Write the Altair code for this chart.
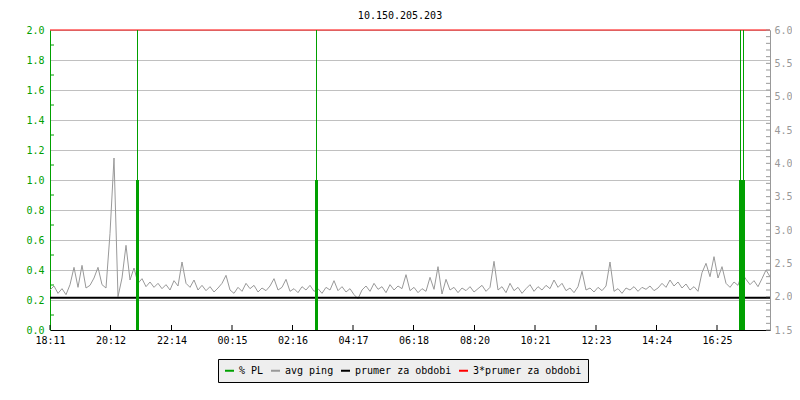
import altair as alt
import pandas as pd

chart_title = "10.150.205.203"
time_labels = ["18:11", "20:12", "22:14", "00:15", "02:16", "04:17",
               "06:18", "08:20", "10:21", "12:23", "14:24", "16:25"]
time_tick_minutes = [0, 121, 243, 364, 485, 606, 727, 849, 970, 1092, 1213, 1334]
time_span_minutes = 1440

series_names = ["% PL", "avg ping", "prumer za obdobi", "3*prumer za obdobi"]
series_colors = ["#00a000", "#999999", "#000000", "#ff0000"]

ping_step_minutes = 8
avg_ping_ms = [
    2.10, 2.16, 2.05, 2.12, 2.03, 2.18, 2.44, 2.14, 2.47, 2.13,
    2.17, 2.28, 2.44, 2.18, 2.13, 2.95, 4.08, 2.00, 2.28, 2.77,
    2.25, 2.43, 2.20, 2.27, 2.15, 2.22, 2.14, 2.20, 2.12, 2.18,
    2.10, 2.24, 2.16, 2.52, 2.20, 2.14, 2.25, 2.10, 2.17, 2.09,
    2.15, 2.07, 2.13, 2.20, 2.32, 2.10, 2.05, 2.14, 2.08, 2.20,
    2.12, 2.17, 2.07, 2.13, 2.09, 2.16, 2.27, 2.10, 2.14, 2.26,
    2.08, 2.12, 2.06, 2.15, 2.10, 2.17, 2.08, 2.12, 2.05, 2.14,
    2.10, 2.24, 2.09, 2.15, 2.07, 2.12, 2.03, 1.97, 2.10, 2.16,
    2.08, 2.20, 2.11, 2.15, 2.06, 2.18, 2.10, 2.16, 2.12, 2.33,
    2.09, 2.14, 2.06, 2.12, 2.08, 2.29, 2.11, 2.45, 2.04, 2.26,
    2.10, 2.14, 2.06, 2.13, 2.09, 2.15, 2.07, 2.12, 2.17, 2.08,
    2.14, 2.53, 2.10, 2.15, 2.06, 2.20, 2.09, 2.14, 2.05, 2.12,
    2.18, 2.08, 2.15, 2.10, 2.17, 2.12, 2.25, 2.14, 2.20, 2.09,
    2.13, 2.06, 2.15, 2.38, 2.10, 2.13, 2.07, 2.14, 2.09, 2.16,
    2.52, 2.08, 2.12, 2.05, 2.13, 2.10, 2.15, 2.08, 2.14, 2.11,
    2.16, 2.09, 2.13, 2.20, 2.14, 2.25, 2.16, 2.22, 2.13, 2.19,
    2.10, 2.15, 2.08, 2.36, 2.50, 2.30, 2.60, 2.28, 2.45, 2.20,
    2.14, 2.22, 2.17, 2.35, 2.26, 2.18, 2.24, 2.15, 2.27, 2.40,
    2.30,
]

pl_event_minutes = [175, 533, 1381, 1387]
pl_event_values = [1.0, 1.0, 1.0, 1.0]
pl_event_top = [2.0, 2.0, 2.0, 2.0]

prumer_value = 1.985
triple_prumer_value = 6.0

left_major_ticks = [0.0, 0.2, 0.4, 0.6, 0.8, 1.0, 1.2, 1.4, 1.6, 1.8, 2.0]
left_minor_ticks = [0.1, 0.3, 0.5, 0.7, 0.9, 1.1, 1.3, 1.5, 1.7, 1.9]
right_major_ticks = [1.5, 2.0, 2.5, 3.0, 3.5, 4.0, 4.5, 5.0, 5.5, 6.0]
right_minor_ticks = [1.5, 1.6, 1.7, 1.8, 1.9, 2.0, 2.1, 2.2, 2.3, 2.4,
                     2.5, 2.6, 2.7, 2.8, 2.9, 3.0, 3.1, 3.2, 3.3, 3.4,
                     3.5, 3.6, 3.7, 3.8, 3.9, 4.0, 4.1, 4.2, 4.3, 4.4,
                     4.5, 4.6, 4.7, 4.8, 4.9, 5.0, 5.1, 5.2, 5.3, 5.4,
                     5.5, 5.6, 5.7, 5.8, 5.9, 6.0]

FONT = "DejaVu Sans Mono"
GREEN = series_colors[0]
GRAY = series_colors[1]
W, H = 720, 300

ping_df = pd.DataFrame({
    "minute": [i * ping_step_minutes for i in range(len(avg_ping_ms))],
    "ping": avg_ping_ms,
    "series": series_names[1],
})
pl_df = pd.DataFrame({"minute": pl_event_minutes, "pl": pl_event_values,
                      "top": pl_event_top, "zero": 0.0, "series": series_names[0]})
prumer_df = pd.DataFrame({"v": [prumer_value], "series": [series_names[2]]})
triple_df = pd.DataFrame({"v": [triple_prumer_value], "series": [series_names[3]]})
xt_df = pd.DataFrame({"minute": time_tick_minutes})
lminor_df = pd.DataFrame({"t": left_minor_ticks})
rminor_df = pd.DataFrame({"t": right_minor_ticks})

x_scale = alt.Scale(domain=[0, time_span_minutes], nice=False, zero=False)
left_scale = alt.Scale(domain=[0, 2.0], nice=False, zero=False)
right_scale = alt.Scale(domain=[1.5, 6.0], nice=False, zero=False)

label_arr = "[" + ",".join("'%s'" % s for s in time_labels) + "]"
min_arr = "[" + ",".join(str(m) for m in time_tick_minutes) + "]"

x_axis = alt.Axis(values=time_tick_minutes,
                  labelExpr=label_arr + "[indexof(" + min_arr + ", datum.value)]",
                  title=None, grid=False, ticks=False, domainColor="black",
                  labelColor="black", labelFont=FONT, labelFontSize=10,
                  labelPadding=5, labelFlush=False, labelOverlap=False,
                  orient="bottom")
left_axis = alt.Axis(values=left_major_ticks, format=".1f", title=None, grid=True,
                     gridColor="#c0c0c0", ticks=False, domainColor=GREEN,
                     labelColor=GREEN, labelFont=FONT, labelFontSize=10,
                     labelPadding=6, orient="left", labelFlush=False)
right_axis = alt.Axis(values=right_major_ticks, format=".1f", title=None, grid=False,
                      ticks=False, domainColor=GRAY, labelColor=GRAY,
                      labelFont=FONT, labelFontSize=10, labelPadding=4,
                      orient="right", labelFlush=False)

color_scale = alt.Scale(domain=series_names, range=series_colors)
legend = alt.Legend(orient="none", legendX=168, legendY=329, direction="horizontal",
                    title=None, fillColor="#eeeeee", strokeColor="black",
                    padding=6, symbolType="stroke", symbolSize=81,
                    symbolStrokeWidth=2, labelFont=FONT, labelFontSize=10,
                    labelOffset=4, columnPadding=3, cornerRadius=0)


def col():
    return alt.Color("series:N", scale=color_scale, legend=legend)


def X(field):
    return alt.X(field, scale=x_scale, axis=x_axis)


def YL(field):
    return alt.Y(field, scale=left_scale, axis=left_axis)


def YR(field):
    return alt.Y(field, scale=right_scale, axis=right_axis)


# ---- right-scale group ----
ping_line = alt.Chart(ping_df).mark_line(strokeWidth=1, interpolate="linear").encode(
    x=X("minute:Q"), y=YR("ping:Q"), color=col(),
)
prumer_rule = alt.Chart(prumer_df).mark_rule(strokeWidth=2).encode(
    y=YR("v:Q"), color=col(),
)
triple_rule = alt.Chart(triple_df).mark_rule(strokeWidth=1).encode(
    y=YR("v:Q"), color=col(),
)
right_ticks = alt.Chart(rminor_df).mark_rule(strokeWidth=1).encode(
    y=YR("t:Q"), x=alt.value(W), x2=alt.value(W - 4), color=alt.value(GRAY),
)
right_group = alt.layer(ping_line, prumer_rule, triple_rule, right_ticks)

# ---- left-scale group ----
pl_thin = alt.Chart(pl_df).mark_rule(strokeWidth=1).encode(
    x=X("minute:Q"), y=YL("top:Q"), y2=alt.Y2("zero:Q"), color=col(),
)
pl_thick = alt.Chart(pl_df).mark_rule(strokeWidth=3).encode(
    x=X("minute:Q"), y=YL("pl:Q"), y2=alt.Y2("zero:Q"), color=col(),
)
left_ticks = alt.Chart(lminor_df).mark_rule(strokeWidth=1).encode(
    y=YL("t:Q"), x=alt.value(0), x2=alt.value(4), color=alt.value(GREEN),
)
x_ticks = alt.Chart(xt_df).mark_rule(strokeWidth=1).encode(
    x=X("minute:Q"), y=alt.value(H), y2=alt.value(H - 5), color=alt.value("black"),
)
left_group = alt.layer(left_ticks, x_ticks, pl_thin, pl_thick)

chart = alt.layer(right_group, left_group).resolve_scale(y="independent").properties(
    width=W, height=H,
    title=alt.TitleParams(chart_title, anchor="middle", font=FONT, fontSize=10,
                          fontWeight="normal", color="black", offset=4, dx=-10),
    autosize=alt.AutoSizeParams(type="none"),
    padding={"left": 42, "top": 22, "right": 22, "bottom": 62},
).configure_view(stroke="transparent").configure(background="white")

chart.save("out.html", embed_options={"renderer": "svg", "actions": False})
